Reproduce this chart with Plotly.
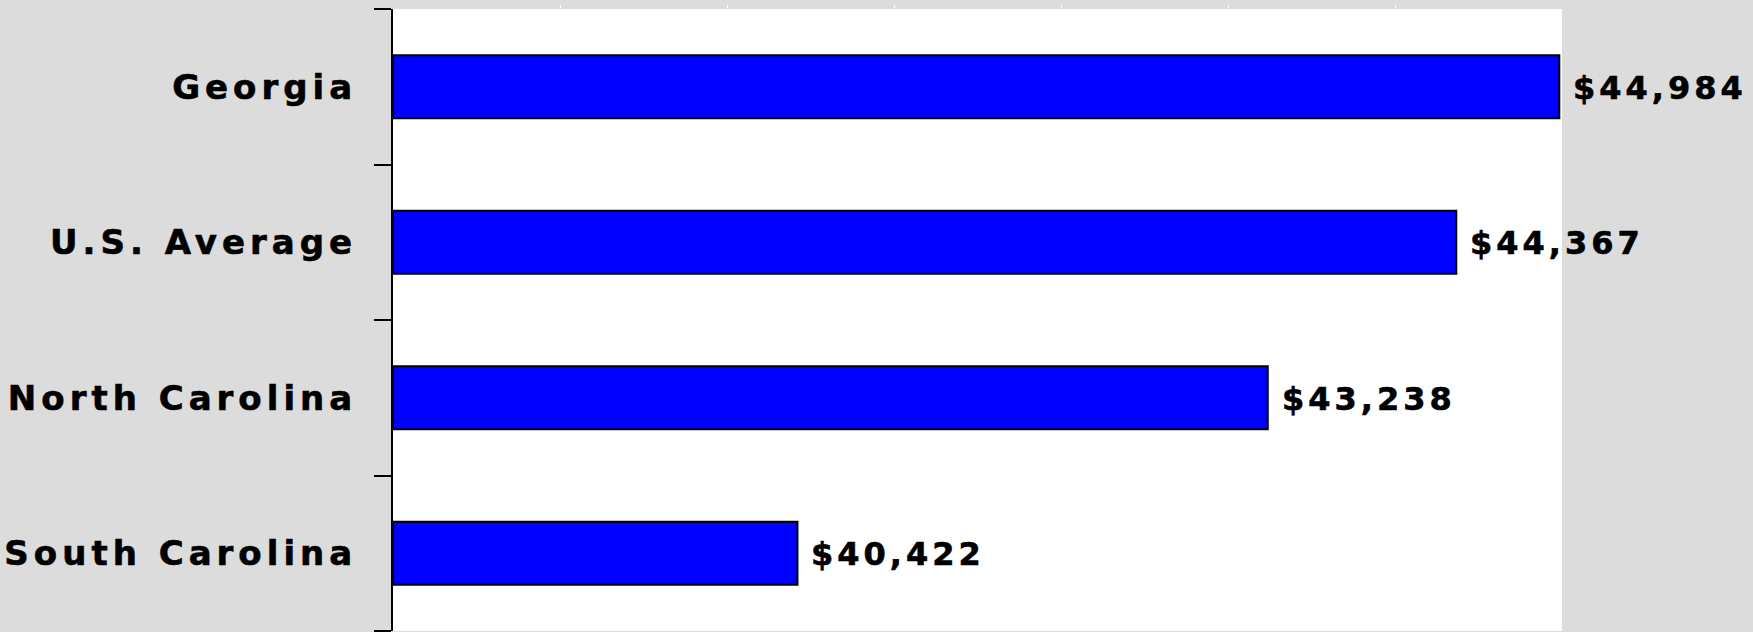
import plotly.graph_objects as go

categories = ["Georgia", "U.S. Average", "North Carolina", "South Carolina"]
values = [44984, 44367, 43238, 40422]
value_labels = ["$44,984", "$44,367", "$43,238", "$40,422"]
x_range = [38000, 45000]
x_ticks = [39000, 40000, 41000, 42000, 43000, 44000]

FONT = "DejaVu Sans, Liberation Sans, Arial, sans-serif"
SPAN = "stroke:#000000;stroke-width:0.6px;letter-spacing:{}px"

fig = go.Figure()
fig.add_trace(go.Bar(
    x=[v - x_range[0] for v in values],
    y=categories,
    orientation="h",
    base=x_range[0],
    marker=dict(color="#0000FF", line=dict(color="#000000", width=2)),
    hoverinfo="skip",
))

for cat, val, lab in zip(categories, values, value_labels):
    fig.add_annotation(
        x=val, y=cat, xref="x", yref="y",
        text=f'<span style="{SPAN.format(4)}">{lab}</span>',
        showarrow=False, xanchor="left", yanchor="middle",
        xshift=12, yshift=-1,
        font=dict(family=FONT, size=32, color="#000000", weight="bold"),
    )

fig.update_layout(
    width=1753, height=632,
    margin=dict(l=393, r=191, t=9, b=1),
    paper_bgcolor="#DCDCDC",
    plot_bgcolor="#FFFFFF",
    bargap=0.595,
    showlegend=False,
)
fig.update_xaxes(
    range=x_range, showgrid=False, zeroline=False, showline=False,
    side="top", ticks="outside", ticklen=3, tickwidth=1, tickcolor="#FFFFFF",
    tickvals=x_ticks, showticklabels=False, fixedrange=True,
)
fig.update_yaxes(
    categoryorder="array", categoryarray=categories,
    range=[3.5, -0.5],
    tickvals=categories,
    ticktext=[f'<span style="{SPAN.format(5)}">{c}</span>' for c in categories],
    tickfont=dict(family=FONT, size=34, color="#000000", weight="bold"),
    showline=True, linecolor="#000000", linewidth=2,
    ticks="outside", tickson="boundaries", ticklen=17, tickwidth=2, tickcolor="#000000",
    showgrid=False, zeroline=False, ticklabelstandoff=27, fixedrange=True,
)

fig.write_html(
    "out.html",
    config={"displayModeBar": False},
    post_script="document.body.style.margin='0';document.body.style.padding='0';",
)
